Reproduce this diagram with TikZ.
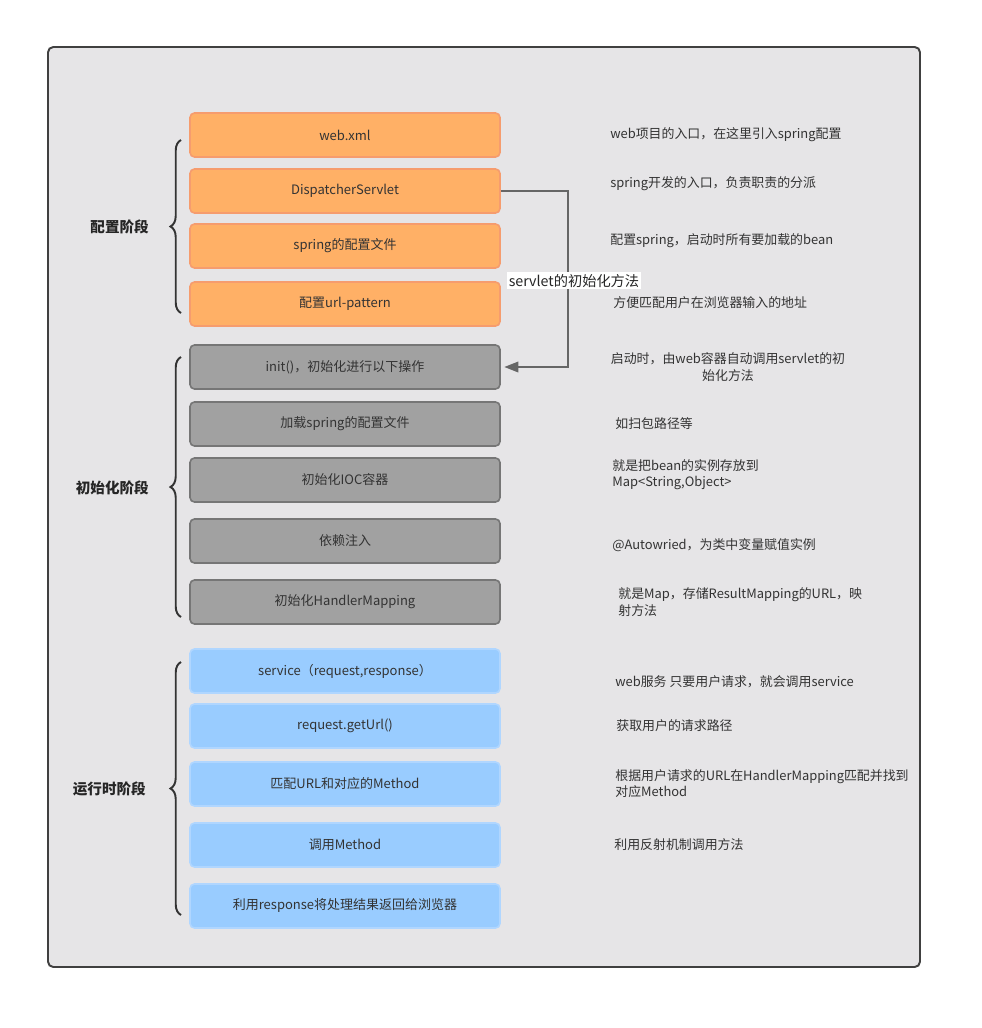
\documentclass[tikz,border=0pt]{standalone}
\usepackage{fontspec}
\setmainfont{Noto Sans CJK SC}
\usetikzlibrary{arrows.meta,decorations.pathreplacing}

\begin{document}
\begin{tikzpicture}[x=0.02cm,y=-0.02cm,
 font=\fontsize{7.4}{9.2}\selectfont,
 box/.style={rounded corners=2.5pt,minimum width=6.2cm,minimum height=0.88cm,
  line width=0.9pt,inner sep=0pt,text=black!80},
 cfgbox/.style={box,fill=cfgfill,draw=cfgline},
 initbox/.style={box,fill=initfill,draw=initline},
 runbox/.style={box,fill=runfill,draw=runline},
 note/.style={anchor=west,align=left,text=black!80,inner sep=0pt,font=\fontsize{7.35}{9.2}\selectfont},
 stage/.style={anchor=east,font=\fontsize{8.3}{10}\selectfont\bfseries,text=black!85},
 stagebrace/.style={decorate,decoration={brace,amplitude=6pt},line width=1.1pt,draw=black!80}]
\definecolor{frame}{RGB}{230,229,231}
\definecolor{cfgfill}{RGB}{255,176,102}
\definecolor{cfgline}{RGB}{246,156,110}
\definecolor{initfill}{RGB}{161,161,161}
\definecolor{initline}{RGB}{118,118,118}
\definecolor{runfill}{RGB}{153,204,255}
\definecolor{runline}{RGB}{176,214,255}
\useasboundingbox (0,0) rectangle (982,1028);
\draw[fill=frame,draw=black!75,line width=1.1pt,rounded corners=3pt] (48,47) rectangle (920,967);
% configuration stage
\node[cfgbox] (webxml) at (345,135) {web.xml};
\node[cfgbox] (dispatcher) at (345,191) {DispatcherServlet};
\node[cfgbox] (springcfg) at (345,246) {spring的配置文件};
\node[cfgbox] (urlpat) at (345,304) {配置url-pattern};
% initialisation stage
\node[initbox] (init) at (345,367) {init()，初始化进行以下操作};
\node[initbox] (loadcfg) at (345,424) {加载spring的配置文件};
\node[initbox] (ioc) at (345,480) {初始化IOC容器};
\node[initbox] (inject) at (345,541) {依赖注入};
\node[initbox] (hmap) at (345,602) {初始化HandlerMapping};
% runtime stage
\node[runbox] (service) at (345,671) {service（request,response）};
\node[runbox] (geturl) at (345,726) {request.getUrl()};
\node[runbox] (match) at (345,784) {匹配URL和对应的Method};
\node[runbox] (invoke) at (345,845) {调用Method};
\node[runbox] (respond) at (345,906) {利用response将处理结果返回给浏览器};
% stage labels with braces
\draw[stagebrace] (181,313) -- (181,140);
\node[stage] (cfgstage) at (155,227) {配置阶段};
\draw[stagebrace] (181,617) -- (181,357);
\node[stage] (initstage) at (155,488) {初始化阶段};
\draw[stagebrace] (181,915) -- (181,662);
\node[stage] (runstage) at (152,789) {运行时阶段};
% servlet init call
\coordinate (bend) at (568,191);
\draw[draw=black!60,line width=1pt,-{Triangle[length=8pt,width=6pt]},shorten >=2pt]
 (dispatcher.east) -- (bend) |- (init.east)
 node[pos=0.255,fill=white,inner sep=1pt,xshift=3.4pt,text=black!85,font=\fontsize{8.1}{10}\selectfont] (initlabel) {servlet的初始化方法};
% notes on the right
\node[note] (n1) at (610,135) {web项目的入口，在这里引入spring配置};
\node[note] (n2) at (610,184) {spring开发的入口，负责职责的分派};
\node[note] (n3) at (610,241) {配置spring，启动时所有要加载的bean};
\node[note] (n4) at (613,303) {方便匹配用户在浏览器输入的地址};
\node[note,anchor=center,align=center] (n5) at (728,367) {启动时，由web容器自动调用servlet的初\\始化方法};
\node[note] (n6) at (615,424) {如扫包路径等};
\node[note] (n7) at (612,475) {就是把bean的实例存放到\\Map<String,Object>};
\node[note] (n8) at (612,545) {@Autowried，为类中变量赋值实例};
\node[note] (n9) at (618,602) {就是Map，存储ResultMapping的URL，映\\射方法};
\node[note] (n10) at (615,682) {web服务 只要用户请求，就会调用service};
\node[note] (n11) at (616,726) {获取用户的请求路径};
\node[note] (n12) at (615,784) {根据用户请求的URL在HandlerMapping匹配并找到\\对应Method};
\node[note] (n13) at (614,845) {利用反射机制调用方法};
\end{tikzpicture}
\end{document}
